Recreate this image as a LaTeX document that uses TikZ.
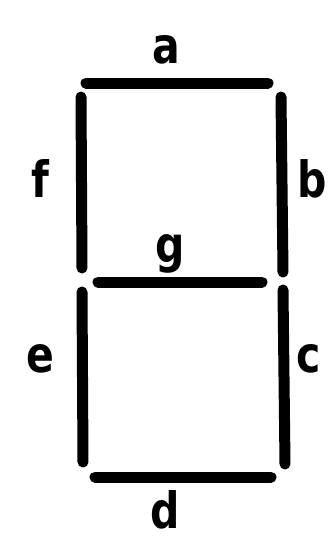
\documentclass[tikz,border=0pt]{standalone}
\usepackage{fontspec}
\setmainfont{DejaVu Sans}
\begin{document}
\begin{tikzpicture}[x=1pt,y=-1pt,
  seg/.style={line width=11pt,line cap=round,black},
  lbl/.style={font=\bfseries\fontsize{50}{50}\selectfont,xscale=0.82,inner sep=0pt,anchor=base}]
\useasboundingbox (0,0) rectangle (330,544);
\coordinate (a1) at (86,83);  \coordinate (a2) at (268,83);
\coordinate (f1) at (81,97);  \coordinate (f2) at (82,268);
\coordinate (b1) at (281,97); \coordinate (b2) at (283,272);
\coordinate (g1) at (98,282); \coordinate (g2) at (262,282);
\coordinate (e1) at (82,292); \coordinate (e2) at (83,462);
\coordinate (c1) at (283,290);\coordinate (c2) at (285,464);
\coordinate (d1) at (95,477); \coordinate (d2) at (271,477);
\draw[seg] (a1) -- (a2);
\draw[seg] (f1) -- (f2);
\draw[seg] (b1) -- (b2);
\draw[seg] (g1) -- (g2);
\draw[seg] (e1) -- (e2);
\draw[seg] (c1) -- (c2);
\draw[seg] (d1) -- (d2);
\node[lbl] (la) at (166,63) {a};
\node[lbl] (lf) at (40,197) {f};
\node[lbl] (lb) at (312,197) {b};
\node[lbl] (lg) at (170,262) {g};
\node[lbl] (le) at (40,372) {e};
\node[lbl] (lc) at (309,372) {c};
\node[lbl] (ld) at (165,528) {d};
\end{tikzpicture}
\end{document}
